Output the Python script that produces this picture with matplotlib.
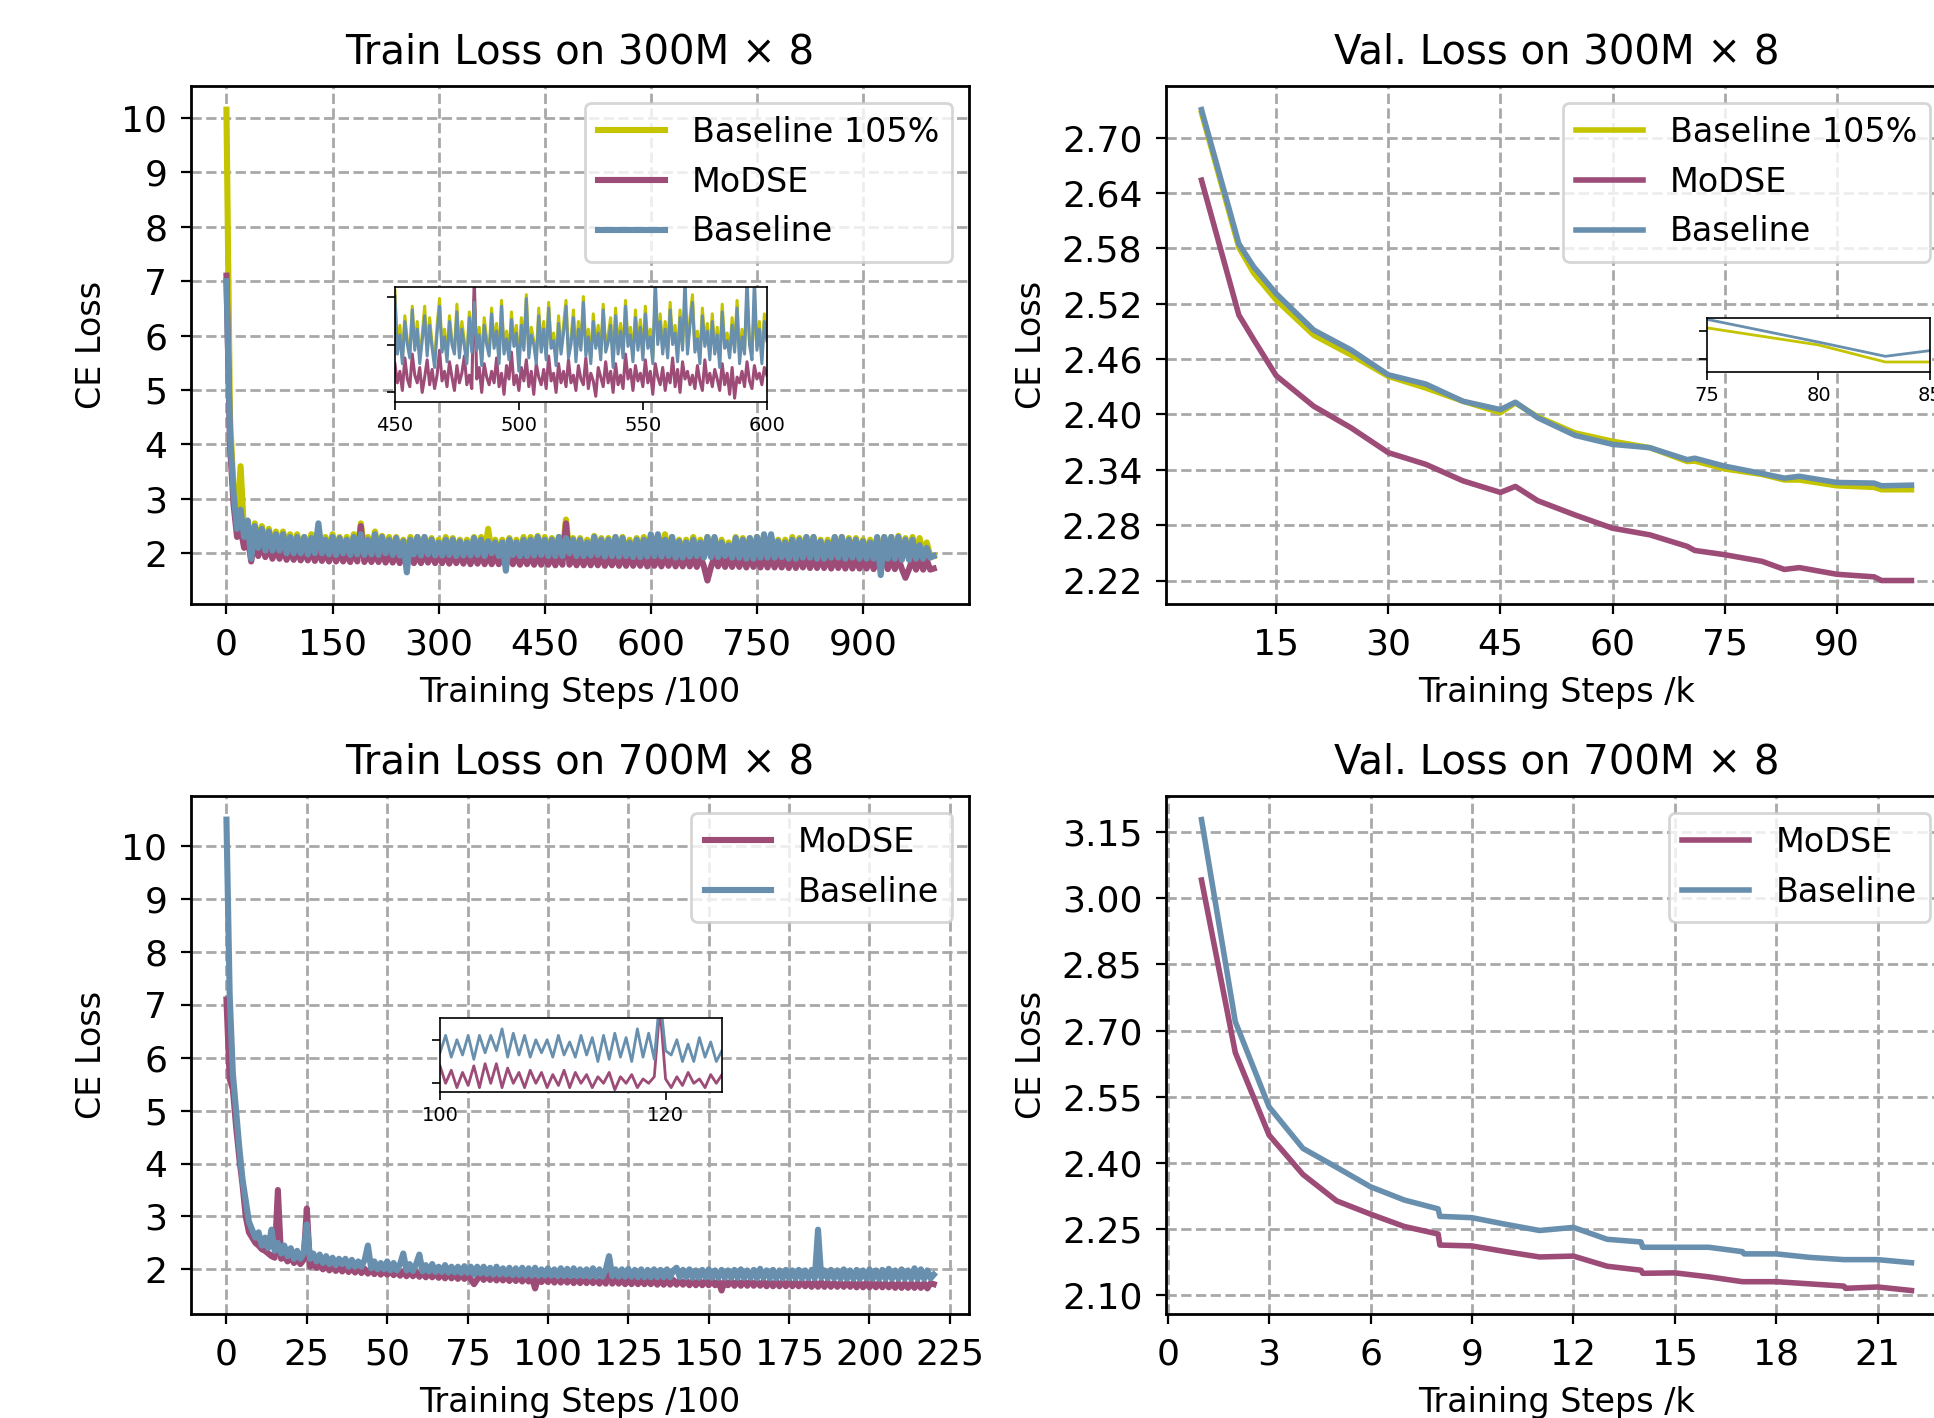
import numpy as np
import matplotlib
matplotlib.use("Agg")
import matplotlib.pyplot as plt

# ---- colours shared by all panels
C_B105 = "#c4c400"
C_MODSE = "#9c4c77"
C_BASE = "#6890ae"

# ---- Train loss on 300M x 8 (x in steps/100, one value every 5)
train300_steps = np.arange(0, 1001, 5)
train300_b105 = [
    10.15, 4.5, 3.2, 2.5, 3.6, 2.35, 2.6, 2.0, 2.55, 2.1, 2.5, 2.1, 2.45, 2.05, 2.4, 2.1, 2.4, 2.05, 2.35, 2.05,
    2.35, 2.0, 2.3, 2.0, 2.35, 2.0, 2.45, 2.0, 2.3, 2.0, 2.35, 2.0, 2.3, 2.0, 2.3, 1.98, 2.35, 2.0, 2.55, 2.0,
    2.3, 2.0, 2.4, 2.0, 2.32, 2.0, 2.3, 1.98, 2.3, 1.98, 2.25, 1.98, 2.3, 2.0, 2.3, 1.98, 2.3, 2.0, 2.28, 1.98,
    2.25, 1.98, 2.3, 1.98, 2.28, 1.97, 2.25, 1.98, 2.25, 1.98, 2.3, 1.98, 2.3, 1.97, 2.45, 2.0, 2.25, 1.97, 2.25, 1.98,
    2.28, 1.98, 2.25, 1.97, 2.3, 1.97, 2.3, 1.98, 2.32, 1.98, 2.3, 1.97, 2.28, 1.97, 2.3, 1.97, 2.62, 2.0, 2.28, 1.97,
    2.28, 1.97, 2.25, 1.98, 2.32, 1.98, 2.28, 1.96, 2.28, 1.97, 2.3, 1.96, 2.3, 1.97, 2.25, 1.95, 2.28, 1.95, 2.3, 1.96,
    2.3, 1.97, 2.32, 1.96, 2.35, 1.97, 2.3, 1.95, 2.25, 1.95, 2.25, 1.96, 2.3, 1.97, 2.25, 1.95, 2.3, 1.95, 2.28, 1.95,
    2.25, 1.96, 2.2, 1.95, 2.3, 1.95, 2.28, 1.93, 2.28, 1.93, 2.3, 1.95, 2.32, 1.95, 2.3, 1.95, 2.25, 1.95, 2.25, 1.93,
    2.3, 1.93, 2.28, 1.95, 2.3, 1.95, 2.3, 1.93, 2.25, 1.93, 2.25, 1.95, 2.3, 1.95, 2.3, 1.93, 2.28, 1.95, 2.28, 1.93,
    2.25, 1.93, 2.25, 1.93, 2.28, 1.93, 2.3, 1.93, 2.3, 1.93, 2.32, 1.92, 2.28, 1.92, 2.3, 1.93, 2.28, 1.93, 2.2, 1.95,
    1.95,
]
train300_modse = [
    7.1, 4.0, 2.9, 2.3, 2.45, 2.1, 2.3, 1.85, 2.25, 1.95, 2.2, 1.93, 2.15, 1.9, 2.1, 1.9, 2.1, 1.88, 2.05, 1.88,
    2.05, 1.87, 2.05, 1.87, 2.05, 1.86, 2.05, 1.86, 2.02, 1.85, 2.05, 1.85, 2.02, 1.85, 2.0, 1.84, 2.05, 1.85, 2.5, 1.84,
    2.02, 1.84, 2.0, 1.84, 2.02, 1.83, 2.0, 1.83, 2.0, 1.82, 2.02, 1.83, 2.0, 1.82, 1.98, 1.82, 2.0, 1.83, 2.0, 1.82,
    1.98, 1.82, 2.0, 1.81, 1.98, 1.82, 1.98, 1.81, 2.0, 1.8, 1.97, 1.81, 1.98, 1.8, 1.98, 1.8, 1.97, 1.8, 1.97, 1.79,
    1.97, 1.8, 1.98, 1.79, 1.97, 1.8, 1.97, 1.79, 1.98, 1.79, 1.97, 1.79, 1.96, 1.78, 1.97, 1.79, 2.55, 1.79, 1.96, 1.78,
    1.96, 1.78, 1.97, 1.78, 1.96, 1.78, 1.97, 1.77, 1.96, 1.78, 1.96, 1.77, 1.95, 1.77, 1.96, 1.77, 1.95, 1.77, 1.96, 1.76,
    1.95, 1.77, 1.95, 1.76, 1.96, 1.77, 1.95, 1.76, 1.94, 1.76, 1.95, 1.76, 1.94, 1.75, 1.95, 1.76, 1.5, 1.75, 1.94, 1.76,
    1.94, 1.75, 1.94, 1.75, 1.95, 1.75, 1.93, 1.74, 1.94, 1.75, 1.93, 1.74, 1.94, 1.74, 1.93, 1.74, 1.93, 1.74, 1.92, 1.73,
    1.93, 1.73, 1.92, 1.74, 1.93, 1.73, 1.92, 1.73, 1.92, 1.73, 1.92, 1.72, 1.92, 1.73, 1.91, 1.72, 1.92, 1.72, 1.91, 1.72,
    1.91, 1.72, 1.91, 1.71, 1.92, 1.72, 1.9, 1.71, 1.91, 1.71, 1.9, 1.71, 1.55, 1.71, 1.9, 1.7, 1.9, 1.7, 1.88, 1.7,
    1.72,
]
train300_base = [
    7.0, 4.2, 3.1, 2.45, 2.8, 2.3, 2.6, 1.9, 2.5, 2.1, 2.45, 2.05, 2.4, 2.05, 2.35, 2.05, 2.35, 2.0, 2.3, 2.0,
    2.3, 2.0, 2.3, 1.98, 2.28, 2.0, 2.55, 2.0, 2.25, 1.98, 2.3, 1.97, 2.28, 2.0, 2.25, 1.97, 2.3, 1.98, 2.35, 1.97,
    2.25, 1.98, 2.35, 1.97, 2.3, 2.0, 2.25, 1.97, 2.28, 1.96, 2.22, 1.65, 2.25, 1.98, 2.3, 1.96, 2.3, 1.98, 2.25, 1.96,
    2.2, 1.96, 2.25, 1.97, 2.25, 1.95, 2.22, 1.96, 2.2, 1.96, 2.28, 1.97, 2.25, 1.95, 2.22, 2.0, 2.2, 1.95, 2.2, 1.68,
    2.25, 1.97, 2.2, 1.95, 2.25, 1.95, 2.25, 1.96, 2.3, 1.97, 2.25, 1.95, 2.25, 1.95, 2.3, 1.95, 2.28, 2.0, 2.25, 1.95,
    2.25, 1.95, 2.2, 1.96, 2.3, 1.97, 2.25, 1.94, 2.25, 1.95, 2.3, 1.94, 2.28, 1.95, 2.2, 1.93, 2.25, 1.93, 2.25, 1.94,
    2.35, 1.95, 2.35, 1.94, 2.25, 1.95, 2.3, 1.92, 2.22, 1.92, 2.2, 1.94, 2.25, 1.95, 2.2, 1.92, 2.3, 1.93, 2.3, 1.93,
    2.2, 1.95, 2.15, 1.92, 2.28, 1.92, 2.25, 1.9, 2.28, 1.9, 2.3, 1.92, 2.35, 1.92, 2.35, 1.92, 2.22, 1.93, 2.2, 1.9,
    2.25, 1.9, 2.25, 1.92, 2.3, 1.92, 2.3, 1.9, 2.22, 1.9, 2.2, 1.92, 2.3, 1.92, 2.3, 1.9, 2.25, 1.92, 2.25, 1.9,
    2.22, 1.9, 2.2, 1.9, 2.3, 1.6, 2.3, 1.9, 2.3, 1.9, 2.3, 1.88, 2.25, 1.88, 2.25, 1.9, 2.15, 1.9, 2.1, 1.92,
    1.95,
]

# zoomed window 450..600 (one value per step)
zoom300_b105 = [
    2.28, 1.98, 2.1, 1.93, 2.15, 2.02, 1.96, 2.2, 1.99, 2.12,
    1.93, 2.05, 2.2, 1.97, 2.14, 2.0, 1.92, 2.1, 2.24, 1.98,
    2.08, 1.94, 2.15, 2.02, 1.97, 2.21, 1.96, 2.12, 2.02, 1.93,
    2.17, 1.98, 2.25, 1.99, 2.09, 1.92, 2.14, 2.03, 1.97, 2.19,
    2.0, 2.11, 1.93, 2.23, 1.97, 2.07, 1.95, 2.17, 2.01, 2.1,
    1.89, 2.14, 1.99, 2.26, 1.96, 2.09, 2.02, 1.93, 2.19, 1.98,
    2.12, 1.95, 2.22, 2.0, 2.06, 1.92, 2.15, 1.97, 2.1, 2.23,
    1.96, 2.03, 2.18, 1.94, 2.12, 1.99, 2.25, 1.97, 2.08, 1.93,
    2.16, 2.0, 2.1, 1.95, 2.21, 1.98, 2.05, 2.14, 1.91, 2.19,
    1.98, 2.11, 1.96, 2.23, 2.01, 2.09, 1.94, 2.18, 1.99, 2.13,
    1.95, 2.2, 2.0, 2.08, 1.93, 2.25, 2.02, 2.16, 1.98, 2.12,
    1.96, 2.22, 2.02, 2.1, 1.94, 2.18, 1.99, 2.24, 1.97, 2.14,
    2.26, 1.98, 2.07, 1.93, 2.19, 2.01, 2.11, 1.95, 2.16, 1.97,
    2.09, 1.91, 2.21, 2.0, 2.06, 1.96, 2.14, 1.98, 2.23, 1.93,
    2.08, 1.97, 2.25, 2.02, 1.95, 2.2, 1.99, 2.12, 1.93, 2.16,
    2.05,
]
zoom300_modse = [
    1.9, 1.8, 1.86, 1.76, 1.93, 1.82, 1.78, 1.95, 1.84, 1.8,
    1.88, 1.75, 1.83, 1.92, 1.79, 1.87, 1.77, 1.84, 1.97, 1.81,
    1.86, 1.78, 1.91, 1.83, 1.76, 1.89, 1.8, 1.85, 1.94, 1.79,
    1.84, 1.77, 2.35, 1.82, 1.88, 1.75, 1.9, 1.83, 1.79, 1.86,
    1.8, 1.93, 1.78, 1.85, 1.74, 1.89, 1.82, 1.96, 1.79, 1.84,
    1.76, 1.88, 1.81, 1.92, 1.78, 1.86, 1.74, 1.9, 1.83, 1.79,
    1.87, 1.77, 1.94, 1.81, 1.85, 1.75, 1.9, 1.8, 1.86, 1.78,
    1.92, 1.8, 1.84, 1.76, 1.89, 1.82, 1.79, 1.93, 1.77, 1.85,
    1.81, 1.73, 1.88, 1.83, 1.78, 1.91, 1.8, 1.86, 1.75, 1.9,
    1.79, 1.84, 1.77, 1.95, 1.82, 1.87, 1.76, 1.89, 1.81, 1.85,
    1.78, 1.92, 1.8, 1.86, 1.74, 1.9, 1.83, 1.79, 1.88, 1.76,
    1.85, 1.8, 1.93, 1.78, 1.87, 1.75, 1.91, 1.82, 1.86, 1.79,
    1.84, 1.77, 1.89, 1.81, 1.76, 1.92, 1.8, 1.85, 1.78, 1.87,
    1.82, 1.76, 1.9, 1.79, 1.85, 1.74, 1.88, 1.72, 1.83, 1.8,
    1.86, 1.78, 1.91, 1.81, 1.77, 1.89, 1.82, 1.85, 1.79, 1.88,
    1.84,
]
zoom300_base = [
    2.25, 1.95, 2.05, 1.9, 2.12, 2.0, 1.93, 2.18, 1.97, 2.08,
    1.9, 2.02, 2.15, 1.94, 2.1, 1.98, 1.88, 2.06, 2.2, 1.96,
    2.04, 1.91, 2.12, 2.0, 1.95, 2.17, 1.93, 2.08, 1.99, 1.9,
    2.14, 1.96, 2.22, 1.97, 2.05, 1.89, 2.1, 2.0, 1.94, 2.16,
    1.98, 2.07, 1.9, 2.2, 1.95, 2.03, 1.92, 2.13, 1.99, 2.06,
    1.86, 2.1, 1.97, 2.24, 1.93, 2.05, 2.0, 1.9, 2.15, 1.96,
    2.08, 1.92, 2.19, 1.98, 2.02, 1.89, 2.11, 1.95, 2.06, 2.2,
    1.93, 2.0, 2.14, 1.91, 2.08, 1.97, 2.22, 1.94, 2.04, 1.9,
    2.12, 1.98, 2.06, 1.92, 2.18, 1.96, 2.01, 2.1, 1.88, 2.15,
    1.95, 2.07, 1.93, 2.2, 1.99, 2.05, 1.91, 2.14, 1.97, 2.09,
    1.92, 2.16, 1.98, 2.04, 1.9, 2.35, 2.0, 2.12, 1.95, 2.08,
    1.93, 2.18, 2.0, 2.06, 1.91, 2.14, 1.97, 2.35, 1.95, 2.1,
    2.22, 1.96, 2.03, 1.9, 2.15, 1.99, 2.07, 1.92, 2.12, 1.95,
    2.05, 1.88, 2.17, 1.98, 2.02, 1.93, 2.1, 1.96, 2.19, 1.9,
    2.04, 1.95, 2.35, 2.0, 1.92, 2.35, 1.97, 2.08, 1.9, 2.12,
    2.02,
]

# ---- Val loss on 300M x 8 (x in k steps)
val300_steps = [5, 10, 12, 15, 20, 25, 30, 35, 40, 45, 47, 50, 55, 60, 65,
                70, 71, 75, 80, 83, 85, 90, 95, 96, 100]
val300_b105 = [2.727, 2.581, 2.553, 2.524, 2.486, 2.4646, 2.4413, 2.4287,
               2.4143, 2.402, 2.4125, 2.3975, 2.380, 2.371, 2.364, 2.349,
               2.3495, 2.341, 2.335, 2.329, 2.329, 2.3227, 2.321, 2.3184,
               2.3184]
val300_modse = [2.654, 2.5078, 2.481, 2.442, 2.409, 2.3856, 2.3586, 2.346,
                2.328, 2.3155, 2.322, 2.3065, 2.291, 2.2767, 2.2695, 2.257,
                2.2526, 2.248, 2.2408, 2.232, 2.234, 2.2268, 2.224, 2.220,
                2.220]
val300_base = [2.7305, 2.585, 2.560, 2.531, 2.4916, 2.470, 2.443, 2.433,
               2.4143, 2.4053, 2.4133, 2.3964, 2.3773, 2.3676, 2.364, 2.351,
               2.3526, 2.344, 2.336, 2.331, 2.333, 2.3263, 2.3256, 2.3227,
               2.3234]

# ---- Train loss on 700M x 8 (x in steps/100, one value per step)
train700_steps = np.arange(0, 221, 1)
train700_modse = [
    7.1, 5.6, 5.4, 4.7, 4.1, 3.6, 3.0, 2.7, 2.6, 2.5, 2.45, 2.38, 2.35, 2.3, 2.25, 2.22, 3.5, 2.2, 2.25, 2.15,
    2.25, 2.12, 2.2, 2.1, 2.18, 3.15, 2.05, 2.12, 2.03, 2.1, 2.0, 2.08, 1.98, 2.06, 1.97, 2.05, 1.96, 2.04, 1.95, 2.03,
    1.94, 2.02, 1.93, 2.01, 1.92, 2.0, 1.91, 2.0, 1.9, 1.98, 1.9, 1.97, 1.89, 1.96, 1.88, 1.96, 1.87, 1.95, 1.87, 1.95,
    1.86, 1.94, 1.85, 1.93, 1.85, 1.93, 1.84, 1.92, 1.83, 1.92, 1.83, 1.91, 1.82, 1.9, 1.82, 1.9, 1.81, 1.72, 1.81, 1.89,
    1.8, 1.89, 1.8, 1.88, 1.79, 1.88, 1.79, 1.87, 1.78, 1.87, 1.78, 1.86, 1.77, 1.86, 1.77, 1.85, 1.64, 1.85, 1.76, 1.85,
    1.76, 1.84, 1.75, 1.84, 1.75, 1.84, 1.75, 1.83, 1.74, 1.83, 1.74, 1.83, 1.74, 1.82, 1.74, 1.82, 1.73, 1.82, 1.73, 2.2,
    1.73, 1.82, 1.73, 1.81, 1.72, 1.81, 1.72, 1.81, 1.72, 1.81, 1.72, 1.8, 1.72, 1.8, 1.71, 1.8, 1.71, 1.8, 1.71, 1.8,
    1.71, 1.8, 1.71, 1.79, 1.7, 1.79, 1.7, 1.79, 1.7, 1.79, 1.7, 1.79, 1.7, 1.78, 1.6, 1.78, 1.7, 1.78, 1.69, 1.78,
    1.69, 1.78, 1.69, 1.78, 1.69, 1.77, 1.69, 1.77, 1.68, 1.77, 1.68, 1.77, 1.68, 1.77, 1.68, 1.77, 1.68, 1.76, 1.68, 1.76,
    1.68, 1.76, 1.67, 1.76, 1.67, 1.76, 1.67, 1.76, 1.67, 1.75, 1.67, 1.75, 1.67, 1.75, 1.67, 1.75, 1.66, 1.75, 1.66, 1.75,
    1.66, 1.75, 1.66, 1.75, 1.66, 1.74, 1.66, 1.74, 1.65, 1.74, 1.65, 1.74, 1.65, 1.74, 1.65, 1.74, 1.65, 1.74, 1.64, 1.74,
    1.72,
]
train700_base = [
    10.5, 7.2, 5.7, 5.0, 4.3, 3.7, 3.3, 2.9, 2.75, 2.6, 2.7, 2.45, 2.6, 2.4, 2.75, 2.35, 2.5, 2.3, 2.45, 2.25,
    2.4, 2.2, 2.35, 2.2, 2.3, 2.85, 2.2, 2.3, 2.15, 2.28, 2.12, 2.25, 2.1, 2.22, 2.08, 2.2, 2.1, 2.2, 2.05, 2.18,
    2.05, 2.15, 2.05, 2.18, 2.45, 2.02, 2.15, 2.0, 2.12, 2.0, 2.15, 1.98, 2.12, 1.98, 2.1, 2.3, 1.98, 2.1, 1.97, 2.1,
    2.28, 1.96, 2.08, 1.96, 2.1, 1.95, 2.05, 1.95, 2.08, 1.94, 2.05, 1.94, 2.05, 1.93, 2.06, 1.93, 2.05, 1.9, 2.05, 1.92,
    2.05, 1.91, 2.03, 1.9, 2.05, 1.9, 2.02, 1.9, 2.03, 1.89, 2.02, 1.89, 2.03, 1.88, 2.02, 1.88, 2.03, 1.88, 2.0, 1.88,
    2.02, 1.88, 2.0, 1.87, 2.02, 1.87, 2.01, 1.87, 2.02, 1.87, 2.0, 1.87, 2.0, 1.86, 2.02, 1.86, 2.0, 1.86, 2.0, 2.25,
    1.87, 2.0, 1.86, 2.0, 1.86, 2.01, 1.86, 1.99, 1.85, 2.0, 1.85, 1.99, 1.85, 2.0, 1.85, 1.99, 1.85, 2.0, 1.85, 1.98,
    2.03, 1.85, 1.99, 1.85, 2.0, 1.84, 1.98, 1.84, 1.99, 1.85, 2.0, 1.84, 1.98, 1.84, 1.99, 1.84, 1.98, 1.84, 1.99, 1.84,
    2.0, 1.84, 1.98, 1.84, 1.99, 1.83, 2.01, 1.84, 1.98, 1.83, 1.99, 1.83, 1.98, 1.83, 1.99, 1.83, 1.98, 1.83, 1.99, 1.83,
    1.98, 1.83, 1.99, 1.83, 2.75, 1.84, 1.98, 1.83, 1.99, 1.83, 1.98, 1.82, 2.0, 1.82, 1.98, 1.82, 1.99, 1.82, 1.98, 1.83,
    2.0, 1.82, 1.98, 1.82, 1.99, 1.82, 2.01, 1.82, 1.98, 1.82, 2.0, 1.82, 1.98, 1.82, 2.02, 1.82, 2.0, 1.82, 1.98, 1.83,
    1.9,
]

# zoomed window 100..125 (every 0.5)
zoom700_modse = [
    1.78, 1.7, 1.76, 1.68, 1.75, 1.69, 1.78, 1.68, 1.79, 1.7,
    1.79, 1.68, 1.77, 1.7, 1.75, 1.68, 1.76, 1.7, 1.75, 1.68,
    1.74, 1.69, 1.76, 1.68, 1.75, 1.7, 1.74, 1.68, 1.73, 1.7,
    1.75, 1.67, 1.73, 1.7, 1.74, 1.68, 1.72, 1.7, 1.73, 2.05,
    1.72, 1.68, 1.73, 1.69, 1.75, 1.7, 1.72, 1.68, 1.74, 1.7,
    1.74,
]
zoom700_base = [
    1.84, 1.92, 1.82, 1.9, 1.83, 1.92, 1.81, 1.92, 1.84, 1.92,
    1.85, 1.95, 1.82, 1.93, 1.83, 1.92, 1.82, 1.9, 1.84, 1.9,
    1.82, 1.92, 1.83, 1.89, 1.82, 1.92, 1.83, 1.91, 1.8, 1.92,
    1.81, 1.93, 1.82, 1.91, 1.8, 1.95, 1.82, 1.93, 1.81, 2.1,
    1.85, 1.83, 1.9, 1.8, 1.88, 1.8, 1.91, 1.82, 1.89, 1.8,
    1.85,
]

# ---- Val loss on 700M x 8 (x in k steps)
val700_steps = [1, 2, 3, 4, 5, 6, 7, 8, 8.05, 9, 10, 11, 12, 13, 14, 14.05,
                15, 16, 17, 17.05, 18, 19, 20, 20.05, 21, 22]
val700_modse = [3.041, 2.650, 2.463, 2.374, 2.314, 2.284, 2.256, 2.239, 2.214,
                2.212, 2.199, 2.187, 2.189, 2.166, 2.157, 2.150, 2.151, 2.142,
                2.131, 2.131, 2.131, 2.126, 2.121, 2.116, 2.119, 2.111]
val700_base = [3.178, 2.720, 2.527, 2.433, 2.390, 2.346, 2.316, 2.296, 2.279,
               2.276, 2.261, 2.247, 2.254, 2.227, 2.221, 2.209, 2.209, 2.209,
               2.199, 2.194, 2.194, 2.186, 2.181, 2.181, 2.181, 2.174]


plt.rcParams["font.family"] = ["DejaVu Sans"]
plt.rcParams["font.size"] = 12

fig = plt.figure(figsize=(9.67, 7.09), dpi=200)


def style_main(ax, title):
    ax.set_title(title, fontsize=14.5, pad=8)
    ax.set_xlabel("Training Steps /100" if "Train" in title else "Training Steps /k",
                  labelpad=5)
    ax.set_ylabel("CE Loss", labelpad=5)
    ax.grid(True, linestyle="--", color="#a8a8a8", linewidth=1.0)
    ax.set_axisbelow(True)
    ax.tick_params(labelsize=13, pad=5)
    for s in ax.spines.values():
        s.set_linewidth(1.0)


def style_inset(ax):
    ax.tick_params(labelsize=7, length=3, width=0.6, pad=2)
    ax.set_yticklabels([])
    for s in ax.spines.values():
        s.set_linewidth(0.6)


# top-left: train 300M
ax = fig.add_axes([0.0988, 0.574, 0.4023, 0.3653])
ax.plot(train300_steps, train300_b105, color=C_B105, lw=2.2, label="Baseline 105%")
ax.plot(train300_steps, train300_modse, color=C_MODSE, lw=2.2, label="MoDSE")
ax.plot(train300_steps, train300_base, color=C_BASE, lw=2.2, label="Baseline")
ax.set_xticks(np.arange(0, 901, 150))
ax.set_yticks(np.arange(2, 11, 1))
style_main(ax, "Train Loss on 300M \u00d7 8")
ax.legend(loc="upper right")

ins = fig.add_axes([0.2042, 0.7165, 0.1923, 0.0811])
zx = np.linspace(450, 600, len(zoom300_base))
ins.plot(zx, zoom300_b105, color=C_B105, lw=1.1)
ins.plot(zx, zoom300_modse, color=C_MODSE, lw=1.1)
ins.plot(zx, zoom300_base, color=C_BASE, lw=1.1)
ins.set_xlim(450, 600)
ins.set_ylim(1.70, 2.30)
ins.set_xticks([450, 500, 550, 600])
ins.set_yticks([1.75, 2.0, 2.25])
style_inset(ins)

# top-right: val 300M (axes run past the right edge, as in the source)
ax = fig.add_axes([0.6029, 0.574, 0.4038, 0.3653])
ax.plot(val300_steps, val300_b105, color=C_B105, lw=2, label="Baseline 105%")
ax.plot(val300_steps, val300_modse, color=C_MODSE, lw=2, label="MoDSE")
ax.plot(val300_steps, val300_base, color=C_BASE, lw=2, label="Baseline")
ax.set_xticks(np.arange(15, 91, 15))
ax.set_yticks(np.arange(2.22, 2.71, 0.06))
ax.yaxis.set_major_formatter(plt.FormatStrFormatter("%.2f"))
style_main(ax, "Val. Loss on 300M \u00d7 8")
ax.legend(loc="upper right")

ins = fig.add_axes([0.8826, 0.7377, 0.1153, 0.0381])
ins.plot(val300_steps, val300_b105, color=C_B105, lw=1)
ins.plot(val300_steps, val300_modse, color=C_MODSE, lw=1)
ins.plot(val300_steps, val300_base, color=C_BASE, lw=1)
ins.set_xlim(75, 85)
ins.set_ylim(2.3255, 2.3445)
ins.set_xticks([75, 80, 85])
ins.set_yticks([2.33, 2.34])
style_inset(ins)

# bottom-left: train 700M
ax = fig.add_axes([0.0988, 0.0733, 0.4023, 0.3653])
ax.plot(train700_steps, train700_modse, color=C_MODSE, lw=2.2, label="MoDSE")
ax.plot(train700_steps, train700_base, color=C_BASE, lw=2.2, label="Baseline")
ax.set_xticks(np.arange(0, 226, 25))
ax.set_yticks(np.arange(2, 11, 1))
style_main(ax, "Train Loss on 700M \u00d7 8")
ax.legend(loc="upper right")

ins = fig.add_axes([0.2275, 0.2299, 0.1458, 0.0522])
zx = np.linspace(100, 125, len(zoom700_base))
ins.plot(zx, zoom700_modse, color=C_MODSE, lw=1)
ins.plot(zx, zoom700_base, color=C_BASE, lw=1)
ins.set_xlim(100, 125)
ins.set_ylim(1.66, 2.0)
ins.set_xticks([100, 120])
ins.set_yticks([1.7, 1.9])
style_inset(ins)

# bottom-right: val 700M
ax = fig.add_axes([0.6029, 0.0733, 0.4038, 0.3653])
ax.plot(val700_steps, val700_modse, color=C_MODSE, lw=2, label="MoDSE")
ax.plot(val700_steps, val700_base, color=C_BASE, lw=2, label="Baseline")
ax.set_xticks(np.arange(0, 22, 3))
ax.set_yticks(np.arange(2.10, 3.16, 0.15))
ax.yaxis.set_major_formatter(plt.FormatStrFormatter("%.2f"))
style_main(ax, "Val. Loss on 700M \u00d7 8")
ax.legend(loc="upper right")

fig.savefig("out.png", dpi=200)
